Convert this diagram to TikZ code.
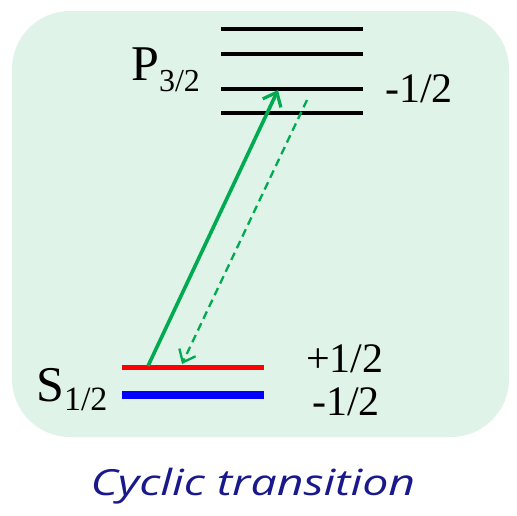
\documentclass[tikz,border=0pt]{standalone}
\usepackage{fontspec}
\setmainfont{Liberation Serif}
\newfontfamily\handfont{Open Sans}
\usetikzlibrary{arrows.meta}
\definecolor{bgfill}{RGB}{223,243,232}
\definecolor{transgreen}{RGB}{0,170,80}
\definecolor{navytext}{RGB}{25,25,140}
\tikzset{
  plevel/.style={line width=4.3pt, black},
  lbl/.style={inner sep=0pt, anchor=base west, font=\fontsize{42}{42}\selectfont},
  trans/.style={transgreen, line width=3.6pt, -{Straight Barb[length=12pt,width=20pt,line width=3.2pt]}},
  decay/.style={transgreen, line width=2.3pt, dash pattern=on 8pt off 5pt, -{Straight Barb[length=11pt,width=18pt,line width=2.3pt]}}
}
\begin{document}
\begin{tikzpicture}[x=1pt,y=-1pt]
\useasboundingbox (0,0) rectangle (517,515);
\fill[bgfill, rounded corners=58pt] (12,11) rectangle (509,437);
% P levels
\draw[plevel] (221,29) -- (363,29);
\draw[plevel] (221,54) -- (363,54);
\draw[plevel] (221,89) -- (363,89);
\draw[plevel] (221,113) -- (363,113);
% S levels
\draw[red, line width=4.5pt] (122,367.5) -- (264,367.5);
\draw[blue, line width=8.5pt] (122,395) -- (264,395);
% labels
\node[inner sep=0pt, anchor=base west] (plab) at (131,80) {\fontsize{50}{50}\selectfont P\raisebox{-11pt}{\fontsize{32}{32}\selectfont 3/2}};
\node[inner sep=0pt, anchor=base west] (slab) at (36,401) {\fontsize{50}{50}\selectfont S\raisebox{-9pt}{\fontsize{34}{34}\selectfont 1/2}};
\node[lbl] (ptop) at (385,102) {-1/2};
\node[lbl] (splus) at (306,372) {+1/2};
\node[lbl] (sminus) at (312,415) {-1/2};
\node[inner sep=0pt, anchor=base, text=navytext] (cap) at (253,495) {\scalebox{1.29}[1]{\handfont\itshape\fontsize{36}{36}\selectfont Cyclic transition}};
% transitions
\coordinate (sA) at (148,366);
\coordinate (pA) at (278,90);
\coordinate (pB) at (307,100);
\coordinate (sB) at (182,364);
\draw[trans] (sA) -- (pA);
\draw[decay] (pB) -- (sB);
\end{tikzpicture}
\end{document}
